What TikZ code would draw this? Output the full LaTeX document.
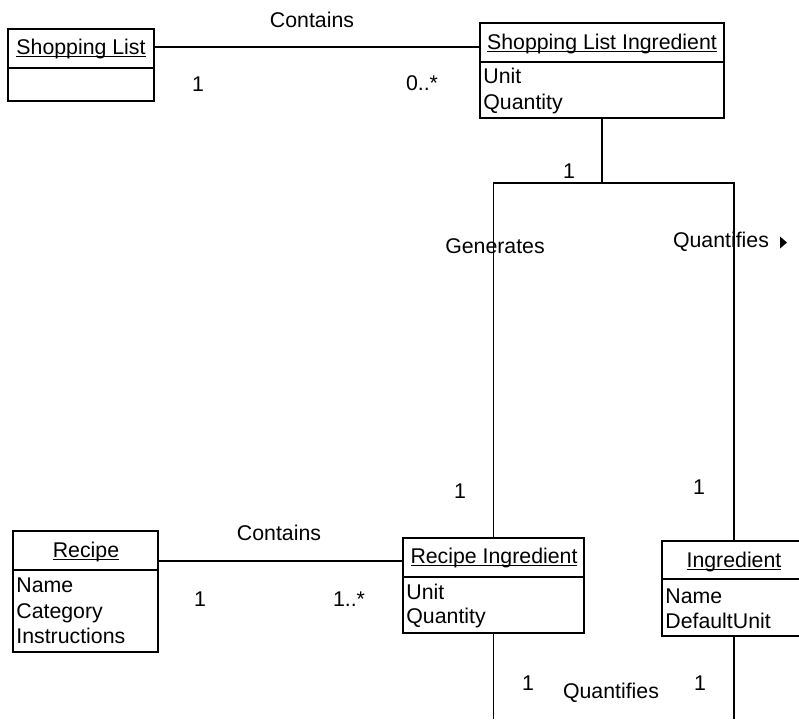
\documentclass[tikz,border=0pt]{standalone}
\usepackage{fontspec}
\setmainfont{Liberation Sans}
\usetikzlibrary{fit}

% underline drawn at a fixed depth, crossing the descenders
\newcommand\classname[1]{\setbox0\hbox{#1}\rlap{\rule[-1.5pt]{\wd0}{0.7pt}}\box0}

\tikzset{
  classbox/.style={draw, line width=0.9pt, inner sep=0pt},
  divider/.style={line width=0.9pt},
  assoc/.style={line width=0.7pt},
  txt/.style={inner sep=0pt, font=\fontsize{10.65}{12.8}\selectfont},
  lbl/.style={txt, anchor=base},
  attr/.style={txt, anchor=base west},
}

\begin{document}
\begin{tikzpicture}[x=0.5pt, y=-0.5pt]
\useasboundingbox (0,0) rectangle (799,719);
\clip (0,0) rectangle (799,719);

% ---- classes ----
\node[classbox, fit={(8,29) (154,101)}] (sl) {};
\draw[divider] (sl.west |- 0,68) -- (sl.east |- 0,68);
\node[lbl] (sl-name) at (81,54) {\classname{Shopping List}};

\node[classbox, fit={(480,23) (724,118)}] (sli) {};
\draw[divider] (sli.west |- 0,62) -- (sli.east |- 0,62);
\node[lbl] (sli-name) at (602,49) {\classname{Shopping List Ingredient}};
\node[attr] (sli-a1) at (483,83) {Unit};
\node[attr] (sli-a2) at (483,109) {Quantity};

\node[classbox, fit={(13,531) (158,652)}] (rec) {};
\draw[divider] (rec.west |- 0,570) -- (rec.east |- 0,570);
\node[lbl] (rec-name) at (86,557) {\classname{Recipe}};
\node[attr] (rec-a1) at (16,592) {Name};
\node[attr] (rec-a2) at (16,618) {Category};
\node[attr] (rec-a3) at (16,643) {Instructions};

\node[classbox, fit={(403,538) (584,633)}] (ri) {};
\draw[divider] (ri.west |- 0,577) -- (ri.east |- 0,577);
\node[lbl] (ri-name) at (494,563) {\classname{Recipe Ingredient}};
\node[attr] (ri-a1) at (406,599) {Unit};
\node[attr] (ri-a2) at (406,623) {Quantity};

\node[classbox, fit={(662,541) (806,636)}] (ing) {};
\draw[divider] (ing.west |- 0,579) -- (ing.east |- 0,579);
\node[lbl] (ing-name) at (734,567) {\classname{Ingredient}};
\node[attr] (ing-a1) at (665,603) {Name};
\node[attr] (ing-a2) at (665,628) {DefaultUnit};

% ---- associations ----
\draw[assoc] (sl.east |- 0,47) -- (sli.west |- 0,47);
\node[lbl] at (312,27) {Contains};
\node[lbl] at (198,91) {1};
\node[lbl] at (422,90) {0..*};

\draw[assoc] (rec.east |- 0,561) -- (ri.west |- 0,561);
\node[lbl] at (279,540) {Contains};
\node[lbl] at (200,606) {1};
\node[lbl] at (349,606) {1..*};

\coordinate (junction) at (sli.south |- 0,183);
\draw[assoc] (sli.south) -- (junction);
\draw[assoc] (junction) -| (ri.north);
\draw[assoc] (junction) -| (ing.north);
\node[lbl] at (569,178) {1};
\node[lbl] at (495,253) {Generates};
\node[lbl] at (721,247) {Quantifies};
% reading-direction marker
\fill (780,236.5) -- (787,242.5) -- (780,248.5) -- cycle;
\node[lbl] at (460,498) {1};
\node[lbl] at (699,494) {1};

\coordinate (ri-end) at (ri.south |- 0,719);
\coordinate (ing-end) at (ing.south |- 0,719);
\draw[assoc] (ri.south) -- (ri-end);
\draw[assoc] (ing.south) -- (ing-end);
\node[lbl] at (528,690) {1};
\node[lbl] at (611,698) {Quantifies};
\node[lbl] at (700,690) {1};
\end{tikzpicture}
\end{document}
